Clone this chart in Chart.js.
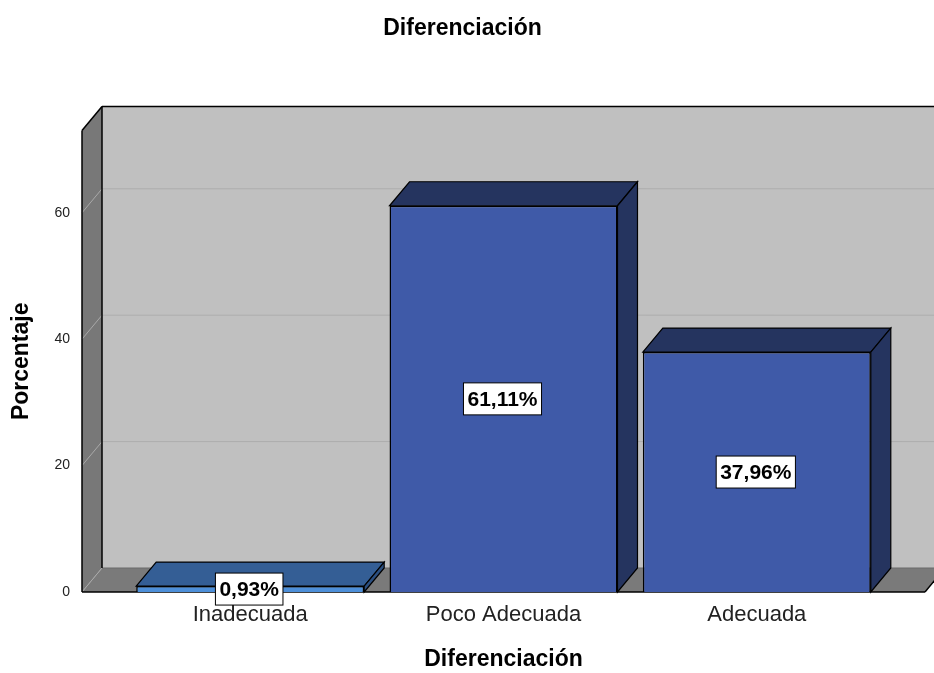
<!DOCTYPE html>
<html>
<head>
<meta charset="utf-8">
<title>Diferenciación</title>
<script src="https://cdn.jsdelivr.net/npm/chart.js@4.4.1/dist/chart.umd.min.js"></script>
<style>
  html, body { margin: 0; padding: 0; background: #ffffff; }
  #wrap { width: 934px; height: 673px; position: relative; }
</style>
</head>
<body>
<div id="wrap"><canvas id="chart"></canvas></div>
<script>
// data
const categories = ['Inadecuada', 'Poco Adecuada', 'Adecuada'];
const porcentajes = [0.93, 61.11, 37.96];
const etiquetas = ['0,93%', '61,11%', '37,96%'];
const yTicks = [0, 20, 40, 60];

const frontColors = ['#4d8fd9', '#3f5aa8', '#3f5aa8'];
const topColors = ['#345e95', '#25345f', '#25345f'];
const sideColors = ['#2b4f80', '#25345f', '#25345f'];

// depth of the 3d box
const DX = 20, DY = -24;

Chart.defaults.font.family = '"Liberation Sans", Arial, sans-serif';
Chart.defaults.color = '#000';

function poly(ctx, pts, fill, stroke, lw) {
    ctx.beginPath();
    ctx.moveTo(pts[0][0], pts[0][1]);
    for (let i = 1; i < pts.length; i++) ctx.lineTo(pts[i][0], pts[i][1]);
    ctx.closePath();
    if (fill) { ctx.fillStyle = fill; ctx.fill(); }
    if (stroke) { ctx.strokeStyle = stroke; ctx.lineWidth = lw || 1; ctx.stroke(); }
}

function line(ctx, x1, y1, x2, y2, color, lw) {
    ctx.beginPath();
    ctx.moveTo(x1, y1);
    ctx.lineTo(x2, y2);
    ctx.strokeStyle = color;
    ctx.lineWidth = lw || 1;
    ctx.stroke();
}

// walls, floor and grid behind the bars
const walls = {
    id: 'walls',
    beforeDatasetsDraw(chart) {
        const ctx = chart.ctx;
        const a = chart.chartArea;
        const y = chart.scales.y;
        const L = a.left, R = a.right, T = a.top, B = a.bottom;
        const farR = chart.width + 40;
        ctx.save();
        // back wall
        poly(ctx, [[L + DX, T + DY], [farR, T + DY], [farR, B + DY], [L + DX, B + DY]], '#c0c0c0');
        // left wall
        poly(ctx, [[L, T], [L + DX, T + DY], [L + DX, B + DY], [L, B]], '#787878');
        // floor
        poly(ctx, [[L, B], [L + DX, B + DY], [R + DX, B + DY], [R, B]], '#7a7a7a');
        // grid
        yTicks.forEach(function(v) {
            const py = y.getPixelForValue(v);
            line(ctx, L, py, L + DX, py + DY, '#a9a9a9', 1);
            if (v > 0) line(ctx, L + DX, py + DY, farR, py + DY, '#adadad', 1);
        });
        line(ctx, L + DX, B + DY, R + DX, B + DY, '#6a6a6a', 1);
        // edges
        line(ctx, L, T, L, B, '#000', 1.5);
        line(ctx, L, T, L + DX, T + DY, '#000', 1.5);
        line(ctx, L + DX, T + DY, farR, T + DY, '#000', 1.5);
        line(ctx, L + DX, T + DY, L + DX, B + DY, '#000', 1.5);
        line(ctx, L, B, R, B, '#000', 1.5);
        line(ctx, R, B, R + DX, B + DY, '#000', 1.5);
        ctx.restore();
    },
    afterDatasetsDraw(chart) {
        const ctx = chart.ctx;
        const meta = chart.getDatasetMeta(0);
        ctx.save();
        meta.data.forEach(function(bar, i) {
            const l = bar.x - bar.width / 2, r = bar.x + bar.width / 2;
            const t = bar.y, b = bar.base;
            poly(ctx, [[l, t], [l + DX, t + DY], [r + DX, t + DY], [r, t]], topColors[i], '#000', 1.2);
            poly(ctx, [[r, t], [r + DX, t + DY], [r + DX, b + DY], [r, b]], sideColors[i], '#000', 1.2);
        });
        // value labels
        ctx.font = 'bold 21px "Liberation Sans", Arial, sans-serif';
        ctx.textAlign = 'center';
        ctx.textBaseline = 'middle';
        meta.data.forEach(function(bar, i) {
            const cx = bar.x - 1;
            const cy = (bar.y + bar.base) / 2;
            const w = ctx.measureText(etiquetas[i]).width + 8;
            const h = 32;
            ctx.fillStyle = '#fff';
            ctx.fillRect(cx - w / 2, cy - h / 2, w, h);
            ctx.strokeStyle = '#000';
            ctx.lineWidth = 1;
            ctx.strokeRect(cx - w / 2, cy - h / 2, w, h);
            ctx.fillStyle = '#000';
            ctx.fillText(etiquetas[i], cx, cy + 1);
        });
        ctx.restore();
    }
};

const data = {
    datasets: [{
        label: 'Porcentaje',
        data: categories.map(function(c, i) { return { x: i + 1, y: porcentajes[i] }; }),
        backgroundColor: frontColors,
        borderColor: '#000',
        borderWidth: 1.5,
        barPercentage: 0.9,
        categoryPercentage: 1.0
    }]
};

const config = {
    type: 'bar',
    data: data,
    options: {
        responsive: true,
        maintainAspectRatio: false,
        animation: false,
        layout: { padding: { left: 0, right: 9, top: 0, bottom: 0 } },
        plugins: {
            legend: { display: false },
            tooltip: { enabled: false },
            title: {
                display: true,
                text: 'Diferenciación',
                font: { size: 23, weight: 'bold', lineHeight: 1.2 },
                color: '#000',
                padding: { top: 15, bottom: 88 }
            }
        },
        scales: {
            x: {
                type: 'linear',
                offset: false,
                bounds: 'data',
                min: 0.336,
                max: 3.664,
                afterBuildTicks: function(scale) {
                    scale.ticks = categories.map(function(c, i) { return { value: i + 1 }; });
                },
                afterFit: function(scale) { scale.height = 81; },
                grid: { display: false, drawTicks: false },
                border: { display: false },
                ticks: {
                    autoSkip: false,
                    maxRotation: 0,
                    padding: 10,
                    color: '#222',
                    font: { size: 22 },
                    callback: function(v) { return categories[v - 1]; }
                },
                title: {
                    display: true,
                    text: 'Diferenciación',
                    color: '#000',
                    font: { size: 23, weight: 'bold', lineHeight: 1.2 },
                    padding: { top: 0, bottom: 0 }
                }
            },
            y: {
                min: 0,
                max: 73,
                afterBuildTicks: function(scale) {
                    scale.ticks = yTicks.map(function(v) { return { value: v }; });
                },
                afterFit: function(scale) { scale.width = 82; },
                grid: { display: false, drawTicks: false },
                border: { display: false },
                ticks: { padding: 12, color: '#222', font: { size: 14 } },
                title: {
                    display: true,
                    text: 'Porcentaje',
                    color: '#000',
                    font: { size: 23, weight: 'bold', lineHeight: 1.2 },
                    padding: { top: 8, bottom: 0 }
                }
            }
        }
    },
    plugins: [walls]
};

const chart = new Chart(document.getElementById('chart'), config);
</script>
</body>
</html>
